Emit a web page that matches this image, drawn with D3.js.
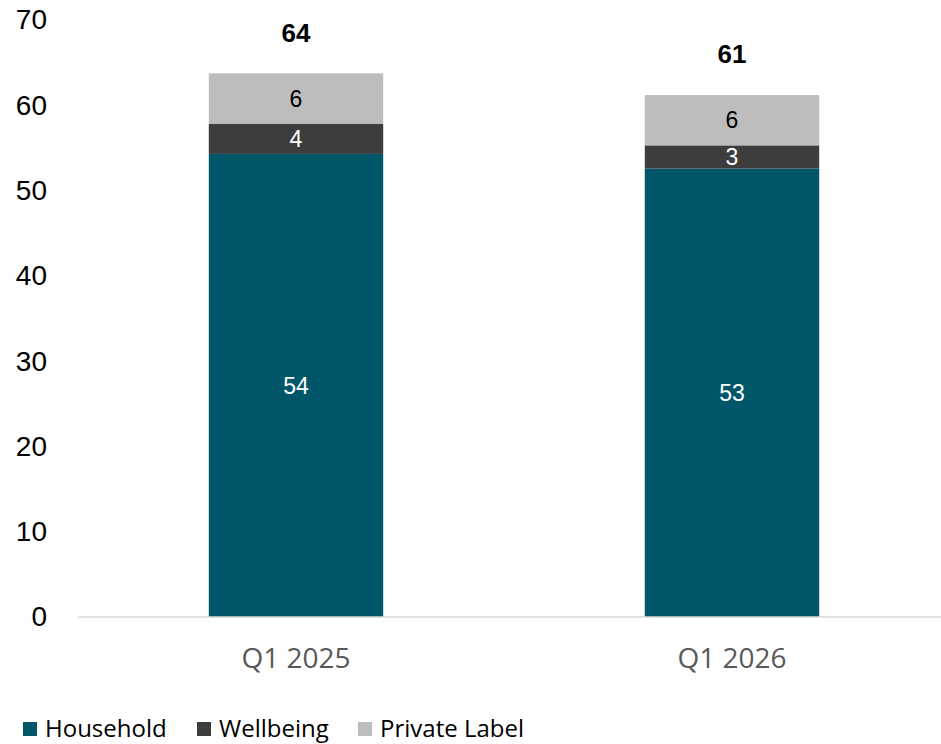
<!DOCTYPE html>
<html>
<head>
<meta charset="utf-8">
<script src="https://cdn.jsdelivr.net/npm/d3@7"></script>
<style>
  html, body { margin: 0; padding: 0; background: #ffffff; }
  svg { display: block; }
</style>
</head>
<body>
<svg id="chart" width="941" height="744"></svg>
<script>
// Quarterly sales by segment (stacked)
const categories = ["Q1 2025", "Q1 2026"];
const seriesNames = ["Household", "Wellbeing", "Private Label"];
const household = [54.3, 52.6];
const wellbeing = [3.55, 2.7];
const privateLabel = [5.9, 5.9];
const yTicks = [0, 10, 20, 30, 40, 50, 60, 70];
const colors = ["#02566a", "#3d3d3d", "#bdbdbd"];
const labelColors = ["#ffffff", "#ffffff", "#000000"];

const rows = categories.map((c, i) => ({
  category: c,
  "Household": household[i],
  "Wellbeing": wellbeing[i],
  "Private Label": privateLabel[i]
}));

const svg = d3.select("#chart");
const numFont = "'Liberation Sans', Arial, sans-serif";
const textFont = "'Open Sans', 'Liberation Sans', sans-serif";

const x = d3.scaleBand().domain(categories).range([78, 950])
  .paddingInner(0.6).paddingOuter(0.3);
const y = d3.scaleLinear().domain([0, 70]).range([617, 20]);

// y-axis labels
const yAxis = svg.append("g").attr("transform", "translate(47,0)")
  .call(d3.axisLeft(y).tickValues(yTicks).tickSize(0).tickPadding(0));
yAxis.select(".domain").remove();
yAxis.selectAll("text")
  .attr("font-family", numFont).attr("font-size", 28).attr("fill", "#000");

// stacked bars
const stacked = d3.stack().keys(seriesNames)(rows);
const fmt = d3.format(".0f");

const layers = svg.append("g").selectAll("g").data(stacked).join("g")
  .attr("fill", (d, i) => colors[i]);
layers.selectAll("rect").data(d => d).join("rect")
  .attr("x", d => x(d.data.category))
  .attr("width", x.bandwidth())
  .attr("y", d => y(d[1]))
  .attr("height", d => y(d[0]) - y(d[1]));

// segment value labels
stacked.forEach((layer, i) => {
  svg.append("g").selectAll("text").data(layer).join("text")
    .attr("x", d => x(d.data.category) + x.bandwidth() / 2)
    .attr("y", d => (y(d[0]) + y(d[1])) / 2)
    .attr("dy", "0.36em")
    .attr("text-anchor", "middle")
    .attr("font-family", numFont)
    .attr("font-size", 23)
    .attr("fill", labelColors[i])
    .text(d => fmt(d[1] - d[0]));
});

// totals above bars
const topLayer = stacked[stacked.length - 1];
svg.append("g").selectAll("text").data(topLayer).join("text")
  .attr("x", d => x(d.data.category) + x.bandwidth() / 2)
  .attr("y", d => y(d[1]) - 41)
  .attr("dy", "0.36em")
  .attr("text-anchor", "middle")
  .attr("font-family", numFont)
  .attr("font-weight", "bold")
  .attr("font-size", 26)
  .attr("fill", "#000")
  .text(d => fmt(d[1]));

// baseline
svg.append("line")
  .attr("x1", 78).attr("x2", 941)
  .attr("y1", y(0)).attr("y2", y(0))
  .attr("stroke", "#d9d9d9").attr("stroke-width", 1.5);

// category labels
const xAxis = svg.append("g").attr("transform", `translate(0,${y(0)})`)
  .call(d3.axisBottom(x).tickSize(0).tickPadding(0));
xAxis.select(".domain").remove();
xAxis.selectAll("text")
  .attr("y", 41).attr("dy", "0.36em")
  .attr("font-family", textFont).attr("font-size", 28).attr("fill", "#595959");

// legend
const legendX = [23, 197, 358];
const legend = svg.append("g").selectAll("g").data(seriesNames).join("g")
  .attr("transform", (d, i) => `translate(${legendX[i]},728)`);
legend.append("rect")
  .attr("x", 0).attr("y", -6).attr("width", 14).attr("height", 14)
  .attr("fill", (d, i) => colors[i]);
legend.append("text")
  .attr("x", 22).attr("y", 0).attr("dy", "0.36em")
  .attr("font-family", textFont).attr("font-size", 24).attr("fill", "#000")
  .text(d => d);
</script>
</body>
</html>
